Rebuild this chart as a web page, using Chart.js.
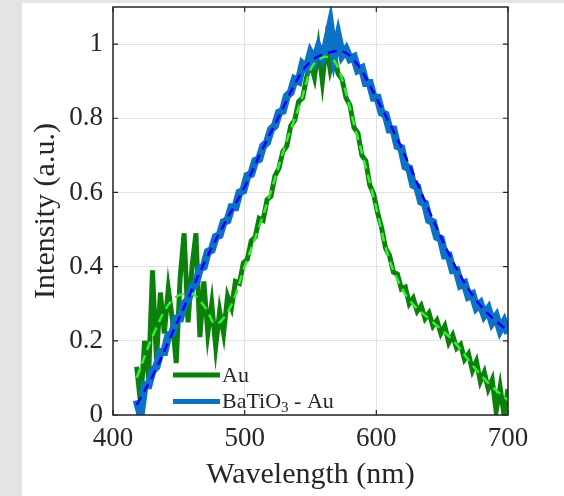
<!DOCTYPE html>
<html>
<head>
<meta charset="utf-8">
<script src="https://cdn.jsdelivr.net/npm/chart.js@4.4.1/dist/chart.umd.min.js"></script>
<style>
  html, body { margin: 0; padding: 0; background: #e4e4e4; }
  .panel { position: absolute; left: 22px; top: 3px; width: 542px; height: 493px; background: #fff; }
  #spec { position: absolute; left: 0; top: 0; }
</style>
</head>
<body>
<div class="panel"></div>
<canvas id="spec" width="564" height="496"></canvas>
<script>
/* ============== data ============== */

// wavelength grid of the measured spectra (nm)
const wavelength = [
  418, 421, 424, 427, 430, 433, 436, 439, 442, 445, 448, 451, 454, 457, 460, 463,
  466, 469, 472, 475, 478, 481, 484, 487, 490, 493, 496, 499, 502, 505, 508, 511,
  514, 517, 520, 523, 526, 529, 532, 535, 538, 541, 544, 547, 550, 553, 556, 559,
  562, 565, 568, 571, 574, 577, 580, 583, 586, 589, 592, 595, 598, 601, 604, 607,
  610, 613, 616, 619, 622, 625, 628, 631, 634, 637, 640, 643, 646, 649, 652, 655,
  658, 661, 664, 667, 670, 673, 676, 679, 682, 685, 688, 691, 694, 697, 700
];

// Au measured intensity
const auRaw = [
  0.13, 0.03, 0.20, 0.10, 0.39, 0.15, 0.33, 0.22, 0.34, 0.26, 0.14, 0.37, 0.49, 0.25, 0.40, 0.49,
  0.21, 0.36, 0.22, 0.30, 0.185, 0.28, 0.22, 0.32, 0.29, 0.36, 0.355, 0.41, 0.42, 0.47, 0.48, 0.53,
  0.525, 0.58, 0.59, 0.645, 0.665, 0.71, 0.725, 0.78, 0.795, 0.845, 0.855, 0.91, 0.95, 0.91, 0.99, 0.90,
  1.00, 0.93, 0.97, 0.92, 0.905, 0.855, 0.835, 0.775, 0.76, 0.70, 0.685, 0.62, 0.595, 0.545, 0.505, 0.45,
  0.43, 0.385, 0.38, 0.34, 0.345, 0.30, 0.315, 0.28, 0.295, 0.26, 0.275, 0.24, 0.255, 0.22, 0.24, 0.195,
  0.215, 0.18, 0.19, 0.15, 0.165, 0.12, 0.145, 0.09, 0.115, 0.07, 0.095, 0.01, 0.075, 0.00, 0.07
];

// BaTiO3 - Au measured intensity
const btRaw = [
  0.04, 0.00, 0.08, 0.08, 0.12, 0.13, 0.17, 0.17, 0.215, 0.22, 0.26, 0.26, 0.30, 0.31, 0.345, 0.355,
  0.395, 0.40, 0.44, 0.445, 0.48, 0.485, 0.52, 0.525, 0.56, 0.56, 0.60, 0.605, 0.645, 0.65, 0.685, 0.69,
  0.725, 0.735, 0.77, 0.78, 0.815, 0.82, 0.86, 0.87, 0.905, 0.90, 0.945, 0.935, 0.975, 0.955, 0.99, 0.965,
  1.00, 1.05, 0.97, 1.02, 0.97, 0.985, 0.96, 0.965, 0.93, 0.935, 0.895, 0.895, 0.855, 0.855, 0.815, 0.81,
  0.77, 0.77, 0.725, 0.72, 0.67, 0.665, 0.62, 0.615, 0.575, 0.57, 0.525, 0.52, 0.48, 0.475, 0.43, 0.43,
  0.39, 0.39, 0.35, 0.355, 0.32, 0.325, 0.29, 0.30, 0.27, 0.285, 0.25, 0.265, 0.23, 0.25, 0.22
];

// smoothed fits (dashed)
const auFitX = [418, 431, 445, 459, 470, 478, 489, 500, 511, 521, 532, 543, 551, 560, 568, 575, 583, 592, 601, 607, 614, 625, 641, 658, 674, 688, 700];
const auFitY = [0.10, 0.22, 0.31, 0.328, 0.29, 0.245, 0.29, 0.40, 0.507, 0.615, 0.74, 0.848, 0.938, 0.965, 0.955, 0.893, 0.785, 0.668, 0.543, 0.453, 0.381, 0.31, 0.256, 0.202, 0.13, 0.076, 0.04];

const btFitX = [418, 431, 445, 459, 472, 486, 500, 513, 527, 541, 551, 565, 576, 587, 601, 614, 628, 641, 655, 669, 682, 696, 700];
const btFitY = [0.027, 0.112, 0.22, 0.33, 0.43, 0.525, 0.615, 0.713, 0.812, 0.911, 0.956, 0.978, 0.978, 0.938, 0.848, 0.758, 0.65, 0.543, 0.435, 0.345, 0.283, 0.238, 0.229];

const xTicks = [400, 500, 600, 700];
const yTicks = [0, 0.2, 0.4, 0.6, 0.8, 1];

const legendNames = ['Au', 'BaTiO3 - Au'];

/* ============== helpers ============== */

const pts = (xs, ys) => xs.map((x, i) => ({ x: x, y: ys[i] }));

const ink = '#262626';
const auDark = '#0b800b',
  auLight = '#33f033',
  btBlue = '#0e72c4',
  btDash = '#0000ff';

Chart.defaults.font.family = "'Liberation Serif', 'Times New Roman', serif";
Chart.defaults.color = ink;

/* frame, inward ticks and legend */
const framePlugin = {
  id: 'frame',
  afterDraw(chart) {
    const ctx = chart.ctx,
      a = chart.chartArea,
      sx = chart.scales.x,
      sy = chart.scales.y;
    ctx.save();
    ctx.strokeStyle = ink;
    ctx.lineWidth = 1.5;
    ctx.strokeRect(a.left, a.top, a.right - a.left, a.bottom - a.top);
    ctx.lineWidth = 1.2;
    ctx.beginPath();
    xTicks.forEach(v => {
      const px = sx.getPixelForValue(v);
      ctx.moveTo(px, a.bottom); ctx.lineTo(px, a.bottom - 5);
      ctx.moveTo(px, a.top); ctx.lineTo(px, a.top + 5);
    });
    yTicks.forEach(v => {
      const py = sy.getPixelForValue(v);
      ctx.moveTo(a.left, py); ctx.lineTo(a.left + 5, py);
      ctx.moveTo(a.right, py); ctx.lineTo(a.right - 5, py);
    });
    ctx.stroke();

    // legend, bottom left inside the axes
    const lx = a.left + 60, ly1 = a.bottom - 40, ly2 = a.bottom - 13.5;
    ctx.lineWidth = 5;
    ctx.strokeStyle = auDark;
    ctx.beginPath(); ctx.moveTo(lx, ly1); ctx.lineTo(lx + 47, ly1); ctx.stroke();
    ctx.strokeStyle = btBlue;
    ctx.beginPath(); ctx.moveTo(lx, ly2); ctx.lineTo(lx + 47, ly2); ctx.stroke();

    ctx.fillStyle = ink;
    ctx.textBaseline = 'alphabetic';
    ctx.textAlign = 'left';
    const f = "22px 'Liberation Serif', serif", fs = "15px 'Liberation Serif', serif";
    ctx.font = f;
    ctx.fillText(legendNames[0], lx + 49, ly1 + 6.5);
    const main = 'BaTiO';
    ctx.fillText(main, lx + 49, ly2 + 6.5);
    let tx = lx + 49 + ctx.measureText(main).width;
    ctx.font = fs;
    ctx.fillText('3', tx, ly2 + 10);
    tx += ctx.measureText('3').width;
    ctx.font = f;
    ctx.fillText(' - Au', tx, ly2 + 6.5);
    ctx.restore();
  }
};

/* ============== chart ============== */

const graf = document.getElementById('spec');

const data = {
  datasets: [
    {
      label: 'Au',
      data: pts(wavelength, auRaw),
      borderColor: auDark,
      borderWidth: 5,
      pointRadius: 0,
      tension: 0,
      order: 4
    },
    {
      label: 'BaTiO3 - Au',
      data: pts(wavelength, btRaw),
      borderColor: btBlue,
      borderWidth: 8,
      pointRadius: 0,
      tension: 0,
      order: 3
    },
    {
      label: 'Au fit',
      data: pts(auFitX, auFitY),
      borderColor: auLight,
      borderWidth: 2.5,
      borderDash: [9, 6],
      pointRadius: 0,
      tension: 0.35,
      order: 2
    },
    {
      label: 'BaTiO3 - Au fit',
      data: pts(btFitX, btFitY),
      borderColor: btDash,
      borderWidth: 2.5,
      borderDash: [9, 6],
      pointRadius: 0,
      tension: 0.35,
      order: 1
    }
  ]
};

const config = {
  type: 'line',
  data,
  options: {
    responsive: false,
    animation: false,
    layout: { padding: { left: 0, top: 7, right: 56, bottom: 0 } },
    plugins: {
      legend: { display: false },
      tooltip: { enabled: false }
    },
    scales: {
      x: {
        type: 'linear',
        min: 400,
        max: 700,
        afterBuildTicks: s => { s.ticks = xTicks.map(v => ({ value: v })); },
        afterFit: s => { s.height = 81; s.paddingLeft = 0; s.paddingRight = 0; },
        ticks: { font: { size: 27 }, padding: 8, maxRotation: 0 },
        grid: { color: '#e2e2e2', lineWidth: 1, drawTicks: false },
        border: { display: false },
        title: {
          display: true,
          text: 'Wavelength (nm)',
          font: { size: 30 },
          padding: { top: 0, bottom: 3 }
        }
      },
      y: {
        min: 0,
        max: 1.1,
        afterBuildTicks: s => { s.ticks = yTicks.map(v => ({ value: v })); },
        afterFit: s => { s.width = 113; s.paddingTop = 0; s.paddingBottom = 0; },
        ticks: { font: { size: 27 }, padding: 10, callback: v => String(v) },
        grid: { color: '#e2e2e2', lineWidth: 1, drawTicks: false },
        border: { display: false },
        title: {
          display: true,
          text: 'Intensity (a.u.)',
          font: { size: 30 },
          padding: { top: 28, bottom: 0 }
        }
      }
    }
  },
  plugins: [framePlugin]
};

const myChart = new Chart(graf, config);
</script>
</body>
</html>
